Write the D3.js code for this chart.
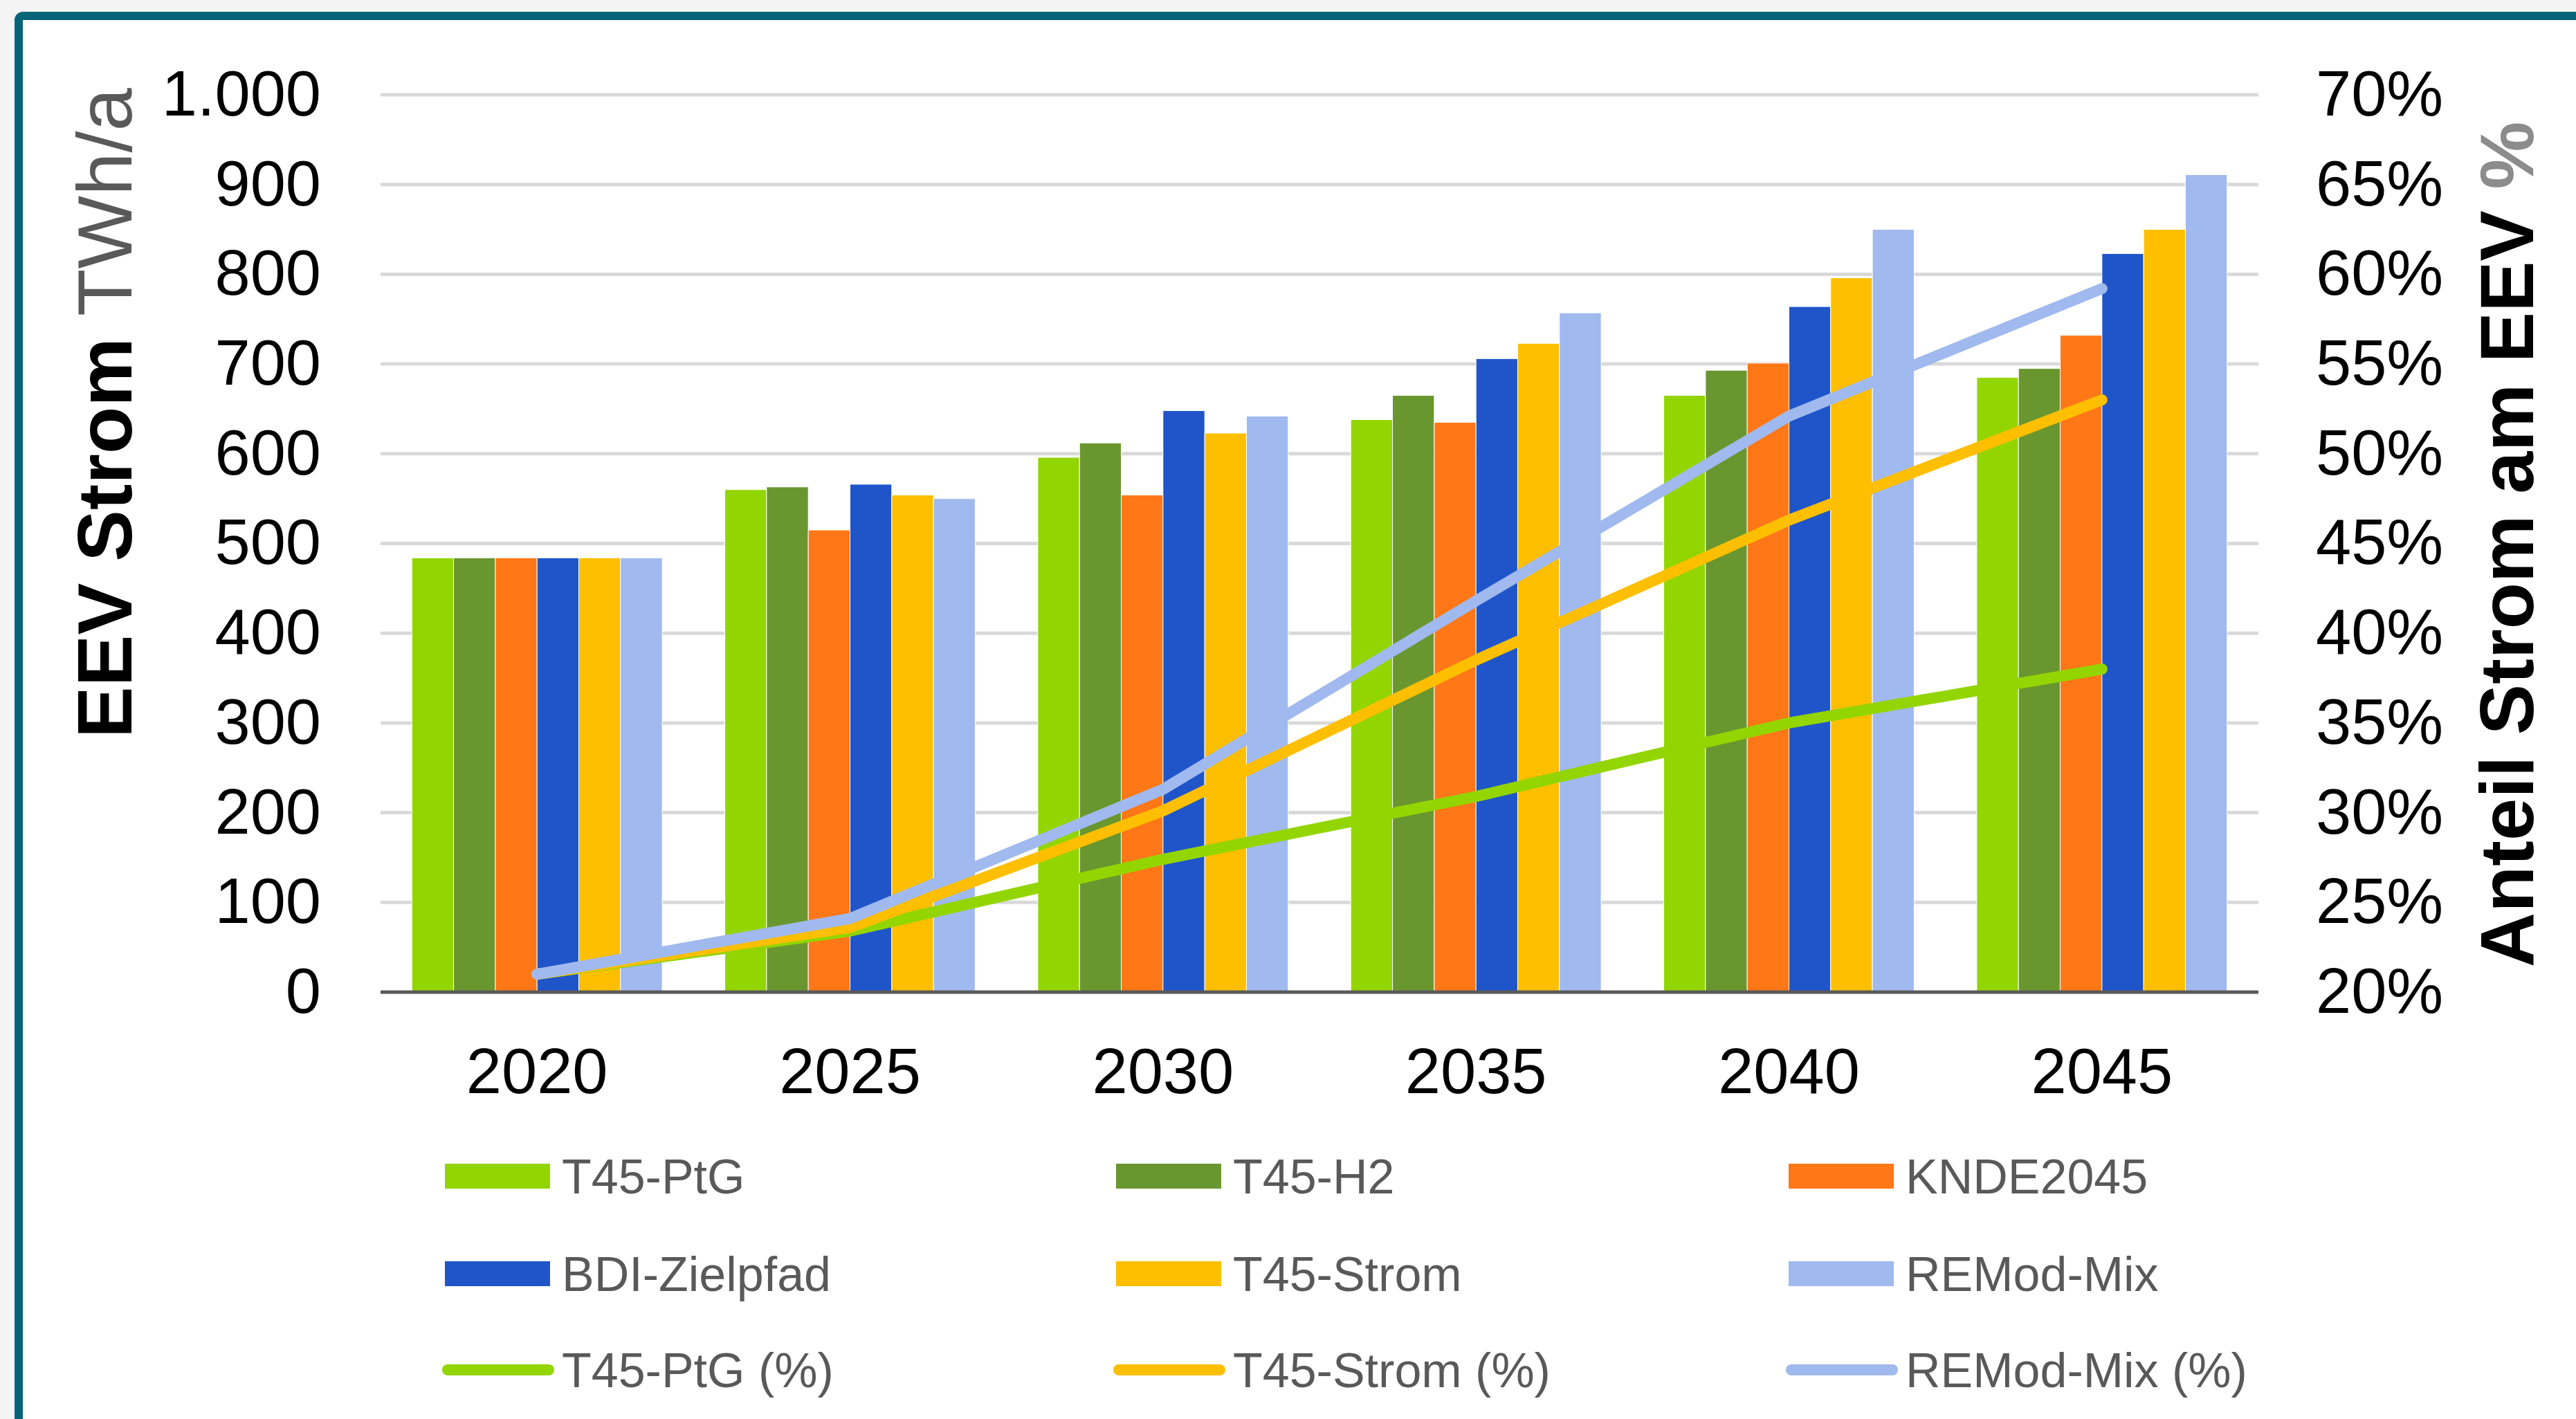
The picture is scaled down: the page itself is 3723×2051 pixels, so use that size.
<!DOCTYPE html>
<html>
<head>
<meta charset="utf-8">
<script src="https://cdn.jsdelivr.net/npm/d3@7/dist/d3.min.js"></script>
<style>
  html, body { margin: 0; padding: 0; background: #f4f4f4; }
  svg { display: block; }
  text { font-family: "Liberation Sans", Arial, sans-serif; }
</style>
</head>
<body>
<svg id="chart" width="3723" height="2051"></svg>
<script>
// ---------- data ----------
const years = ["2020", "2025", "2030", "2035", "2040", "2045"];
const barSeries = ["T45-PtG", "T45-H2", "KNDE2045", "BDI-Zielpfad", "T45-Strom", "REMod-Mix"];
const barColors = ["#93d500", "#6a962f", "#ff7716", "#2055c9", "#fdbf00", "#a0b9ee"];

const valT45PtG   = [484, 560, 596, 638, 665, 685];
const valT45H2    = [484, 563, 612, 665, 693, 695];
const valKNDE2045 = [484, 515, 554, 635, 701, 732];
const valBDI      = [484, 566, 648, 706, 764, 823];
const valT45Strom = [484, 554, 623, 723, 796, 850];
const valREModMix = [484, 550, 642, 757, 850, 911];
const barValues = [valT45PtG, valT45H2, valKNDE2045, valBDI, valT45Strom, valREModMix];

const lineSeries = ["T45-PtG (%)", "T45-Strom (%)", "REMod-Mix (%)"];
const lineColors = ["#93d500", "#fdbf00", "#a0b9ee"];
const pctT45PtG   = [21.0, 23.4, 27.4, 30.9, 35.0, 38.0];
const pctT45Strom = [21.0, 23.6, 30.1, 38.5, 46.3, 53.0];
const pctREModMix = [21.0, 24.1, 31.3, 41.8, 52.1, 59.2];
const lineValues = [pctT45PtG, pctT45Strom, pctREModMix];

const leftTicks = [0, 100, 200, 300, 400, 500, 600, 700, 800, 900, 1000];
const rightTicks = [20, 25, 30, 35, 40, 45, 50, 55, 60, 65, 70];

// ---------- layout ----------
const W = 3723, H = 2051;
const plot = { left: 550, right: 3264, top: 137, bottom: 1434 };

const svg = d3.select("#chart");

// background / frame
svg.append("rect").attr("x", 0).attr("y", 0).attr("width", W).attr("height", H).attr("fill", "#f4f4f4");
svg.append("rect").attr("x", 27).attr("y", 23).attr("width", W + 100).attr("height", H + 100)
  .attr("rx", 6).attr("fill", "#ffffff").attr("stroke", "#066478").attr("stroke-width", 12);

const x = d3.scaleBand().domain(years).range([plot.left, plot.right])
  .paddingInner(0.2).paddingOuter(0.1);
const xs = d3.scaleBand().domain(barSeries).range([0, x.bandwidth()]).padding(0);
const y = d3.scaleLinear().domain([0, 1000]).range([plot.bottom, plot.top]);
const y2 = d3.scaleLinear().domain([20, 70]).range([plot.bottom, plot.top]);

const de = d3.formatLocale({ decimal: ",", thousands: ".", grouping: [3], currency: ["", " €"] });
const fmtLeft = de.format(",d");

// gridlines
svg.append("g").selectAll("line").data(leftTicks.filter(d => d > 0)).join("line")
  .attr("x1", plot.left).attr("x2", plot.right)
  .attr("y1", d => y(d)).attr("y2", d => y(d))
  .attr("stroke", "#d9d9d9").attr("stroke-width", 5);

// bars
const gBars = svg.append("g");
years.forEach((yr, i) => {
  barSeries.forEach((s, j) => {
    gBars.append("rect")
      .attr("x", x(yr) + xs(s))
      .attr("y", y(barValues[j][i]))
      .attr("width", xs.bandwidth())
      .attr("height", y(0) - y(barValues[j][i]))
      .attr("fill", barColors[j])
      .attr("stroke", "#ffffff").attr("stroke-width", 1);
  });
});

// baseline
svg.append("line").attr("x1", plot.left).attr("x2", plot.right)
  .attr("y1", y(0)).attr("y2", y(0)).attr("stroke", "#595959").attr("stroke-width", 5);

// lines
const lineGen = d3.line().x((d, i) => x(years[i]) + x.bandwidth() / 2).y(d => y2(d));
lineValues.forEach((vals, k) => {
  svg.append("path").datum(vals).attr("d", lineGen)
    .attr("fill", "none").attr("stroke", lineColors[k]).attr("stroke-width", 16)
    .attr("stroke-linecap", "round").attr("stroke-linejoin", "round");
});

// left axis labels
const axL = d3.axisLeft(y).tickValues(leftTicks).tickFormat(fmtLeft).tickSize(0).tickPadding(86);
const gL = svg.append("g").attr("transform", `translate(${plot.left},0)`).call(axL);
gL.select(".domain").remove();
gL.selectAll("text").attr("font-size", 92).attr("fill", "#000").attr("font-family", "Liberation Sans, Arial, sans-serif");

// right axis labels
const axR = d3.axisRight(y2).tickValues(rightTicks).tickFormat(d => d + "%").tickSize(0).tickPadding(83);
const gR = svg.append("g").attr("transform", `translate(${plot.right},0)`).call(axR);
gR.select(".domain").remove();
gR.selectAll("text").attr("font-size", 92).attr("fill", "#000").attr("font-family", "Liberation Sans, Arial, sans-serif");

// x axis labels
const axB = d3.axisBottom(x).tickSize(0).tickPadding(0);
const gB = svg.append("g").attr("transform", `translate(0,${plot.bottom})`).call(axB);
gB.select(".domain").remove();
gB.selectAll("text").attr("font-size", 92).attr("fill", "#000").attr("dy", null)
  .attr("y", 146).attr("font-family", "Liberation Sans, Arial, sans-serif");

// left title
const tL = svg.append("text").attr("transform", "translate(190,597) rotate(-90)")
  .attr("text-anchor", "middle").attr("font-size", 112);
tL.append("tspan").attr("font-weight", "bold").attr("fill", "#000").text("EEV Strom ");
tL.append("tspan").attr("fill", "#595959").text("TWh/a");

// right title
const tR = svg.append("text").attr("transform", "translate(3661,787) rotate(-90)")
  .attr("text-anchor", "middle").attr("font-size", 110).attr("font-weight", "bold");
tR.append("tspan").attr("fill", "#000").text("Anteil Strom am EEV ");
tR.append("tspan").attr("fill", "#8c8c8c").text("%");

// legend
const legCols = [643, 1613, 2585];
const legRows = [1700, 1841, 1980];
const legItems = [];
barSeries.forEach((s, j) => legItems.push({ name: s, color: barColors[j], type: "bar" }));
lineSeries.forEach((s, k) => legItems.push({ name: s, color: lineColors[k], type: "line" }));
const gLeg = svg.append("g");
legItems.forEach((it, idx) => {
  const cx = legCols[idx % 3], cy = legRows[Math.floor(idx / 3)];
  if (it.type === "bar") {
    gLeg.append("rect").attr("x", cx).attr("y", cy - 18).attr("width", 152).attr("height", 36).attr("fill", it.color);
  } else {
    gLeg.append("line").attr("x1", cx + 4).attr("x2", cx + 150).attr("y1", cy).attr("y2", cy)
      .attr("stroke", it.color).attr("stroke-width", 16).attr("stroke-linecap", "round");
  }
  gLeg.append("text").attr("x", cx + 169).attr("y", cy + 25).attr("font-size", 70)
    .attr("fill", "#595959").text(it.name);
});
</script>
</body>
</html>
